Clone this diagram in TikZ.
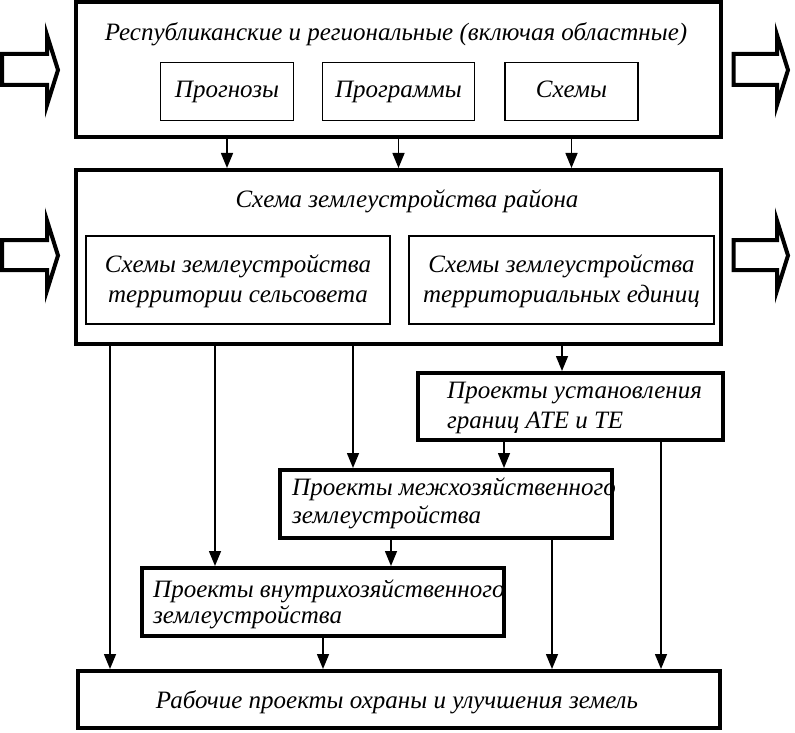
\documentclass[tikz,border=0pt]{standalone}
\usepackage{fontspec}
\setmainfont{Liberation Serif}
\usetikzlibrary{arrows.meta}
\begin{document}
\begin{tikzpicture}[x=1pt,y=-1pt,
  tbox/.style={draw, line width=4pt, inner sep=0pt},
  nbox/.style={draw, line width=1.8pt, inner sep=0pt},
  lbl/.style={font=\fontsize{25}{30}\selectfont\itshape, inner sep=0pt},
  arr/.style={line width=1.5pt, -{Triangle[length=15pt,width=12pt]}},
  blockarr/.style={draw, line width=4pt, line join=miter}]
\useasboundingbox (0,0) rectangle (795,733);

% boxes
\node[tbox, minimum width=645pt, minimum height=135pt] (top) at (398.5,69.5) {};
\node[nbox, minimum width=133pt, minimum height=58pt] (prog) at (227,91.5) {};
\node[nbox, minimum width=152pt, minimum height=58pt] (progr) at (398.5,91.5) {};
\node[nbox, minimum width=133pt, minimum height=58pt] (sch) at (571.5,91.5) {};

\node[tbox, minimum width=645pt, minimum height=173.5pt] (mid) at (398.5,256.75) {};
\node[nbox, minimum width=304pt, minimum height=88pt] (s1) at (238,280) {};
\node[nbox, minimum width=305pt, minimum height=88pt] (s2) at (561.5,280) {};

\node[tbox, minimum width=304.5pt, minimum height=67pt] (ate) at (570.25,406.5) {};
\node[tbox, minimum width=332pt, minimum height=68pt] (mezh) at (446,504) {};
\node[tbox, minimum width=362pt, minimum height=68pt] (vnutr) at (323,602) {};
\node[tbox, minimum width=642pt, minimum height=57pt] (bot) at (399,699.5) {};

% labels
\node[lbl, anchor=base] (ttop) at (396,41) {Республиканские и региональные (включая областные)};
\node[lbl, anchor=base] (tprog) at (227,98) {Прогнозы};
\node[lbl, anchor=base] (tprogr) at (398.5,98) {Программы};
\node[lbl, anchor=base] (tsch) at (571.5,98) {Схемы};
\node[lbl, anchor=base] (tmid) at (407,207) {Схема землеустройства района};
\node[lbl, anchor=base] (ts1a) at (238,272) {Схемы землеустройства};
\node[lbl, anchor=base] (ts1b) at (238,302) {территории сельсовета};
\node[lbl, anchor=base] (ts2a) at (561.5,272) {Схемы землеустройства};
\node[lbl, anchor=base] (ts2b) at (561.5,302) {территориальных единиц};
\node[lbl, anchor=base west] (tatea) at (447,398) {Проекты установления};
\node[lbl, anchor=base west] (tateb) at (447,428) {границ АТЕ и ТЕ};
\node[lbl, anchor=base west] (tmezha) at (292,495) {Проекты межхозяйственного};
\node[lbl, anchor=base west] (tmezhb) at (292,523) {землеустройства};
\node[lbl, anchor=base west] (tvna) at (153,597) {Проекты внутрихозяйственного};
\node[lbl, anchor=base west] (tvnb) at (153,623) {землеустройства};
\node[lbl, anchor=base] (tbot) at (397,708) {Рабочие проекты охраны и улучшения земель};

% columns
\coordinate (c1) at (227,0);
\coordinate (c2) at (398.5,0);
\coordinate (c3) at (571.5,0);
\coordinate (d1) at (110,0);
\coordinate (d2) at (215,0);
\coordinate (d3) at (353,0);
\coordinate (d4) at (562,0);
\coordinate (e1) at (504,0);
\coordinate (e2) at (661,0);
\coordinate (f1) at (391,0);
\coordinate (f2) at (552,0);
\coordinate (g1) at (323,0);

% connectors
\draw[arr] (top.south -| c1) -- (mid.north -| c1);
\draw[arr] (top.south -| c2) -- (mid.north -| c2);
\draw[arr] (top.south -| c3) -- (mid.north -| c3);
\draw[arr] (mid.south -| d1) -- (bot.north -| d1);
\draw[arr] (mid.south -| d2) -- (vnutr.north -| d2);
\draw[arr] (mid.south -| d3) -- (mezh.north -| d3);
\draw[arr] (mid.south -| d4) -- (ate.north -| d4);
\draw[arr] (ate.south -| e1) -- (mezh.north -| e1);
\draw[arr] (ate.south -| e2) -- (bot.north -| e2);
\draw[arr] (mezh.south -| f1) -- (vnutr.north -| f1);
\draw[arr] (mezh.south -| f2) -- (bot.north -| f2);
\draw[arr] (vnutr.south -| g1) -- (bot.north -| g1);

% block arrows
\draw[blockarr] (2,54) -- (47,54) -- (47,35) -- (58,70) -- (47,105) -- (47,85) -- (2,85) -- cycle;
\draw[blockarr] (2,240) -- (47,240) -- (47,220.5) -- (58,255.5) -- (47,290.5) -- (47,270) -- (2,270) -- cycle;
\draw[blockarr] (733.5,54) -- (777,54) -- (777,35) -- (788,70) -- (777,105) -- (777,85) -- (733.5,85) -- cycle;
\draw[blockarr] (733.5,240) -- (777,240) -- (777,220.5) -- (788,255.5) -- (777,290.5) -- (777,270) -- (733.5,270) -- cycle;
\end{tikzpicture}
\end{document}
